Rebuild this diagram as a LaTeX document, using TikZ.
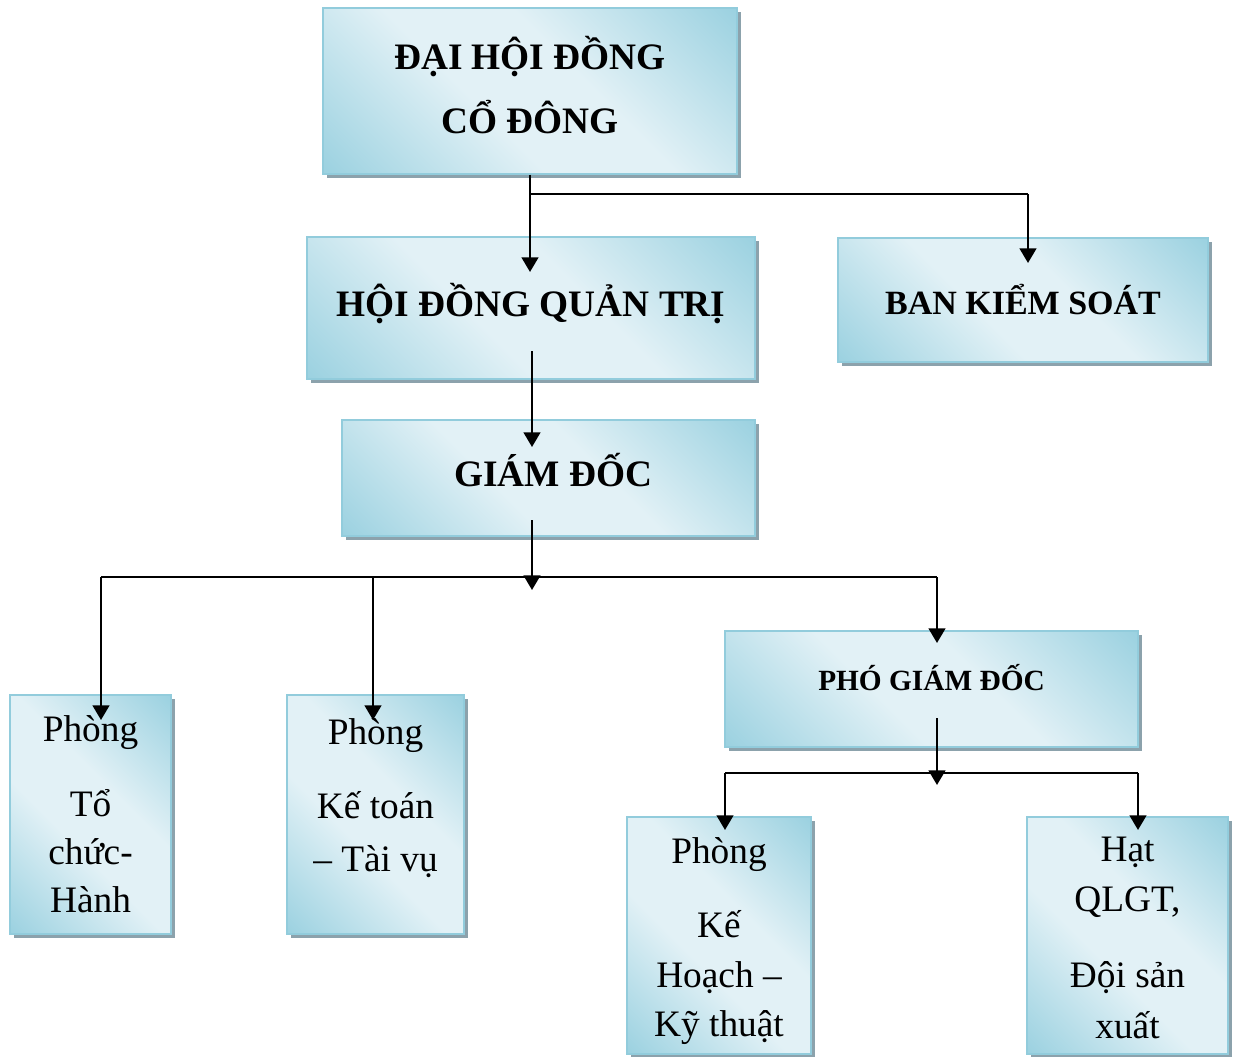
\documentclass[tikz,border=0pt]{standalone}
\usepackage{fontspec}
\setmainfont{Liberation Serif}
\usetikzlibrary{arrows.meta,shadows}
\definecolor{boxdark}{RGB}{148,206,222}
\definecolor{boxlight}{RGB}{226,241,246}
\definecolor{boxedge}{RGB}{146,204,220}
\definecolor{shd}{RGB}{140,162,172}
\pgfdeclareverticalshading{orgshade}{100bp}{color(0bp)=(boxdark); color(12bp)=(boxdark); color(42bp)=(boxlight); color(58bp)=(boxlight); color(88bp)=(boxdark); color(100bp)=(boxdark)}
\begin{document}
\begin{tikzpicture}[x=0.75pt,y=-0.75pt,
  orgbox/.style={rectangle, inner sep=0pt, draw=boxedge, line width=1pt,
    shading=orgshade, shading angle=-45,
    general shadow={fill=shd, shadow xshift=3pt, shadow yshift=-3pt}, align=center},
  bigbold/.style={font=\fontsize{28}{48}\selectfont\bfseries},
  plain/.style={font=\fontsize{28}{37}\selectfont},
  varr/.style={line width=1.8pt, -{Triangle[length=11pt,width=12.5pt]}},
  hline/.style={line width=1pt}]
\useasboundingbox (0,0) rectangle (1233,1057);

% boxes
\node[orgbox, bigbold, minimum width=310.5pt, minimum height=124.5pt] (dh) at (530,91)
  {ĐẠI HỘI ĐỒNG\\CỔ ĐÔNG\rule[-9pt]{0pt}{9pt}};
\node[orgbox, font=\fontsize{28}{34}\selectfont\bfseries, minimum width=336pt, minimum height=106.5pt,
  text height=24pt, text depth=11pt] (hd) at (531,308) {HỘI ĐỒNG QUẢN TRỊ};
\node[orgbox, font=\fontsize{25.5}{30}\selectfont\bfseries, minimum width=277.5pt, minimum height=93pt,
  text height=28pt, text depth=7pt] (bks) at (1023,300) {BAN KIỂM SOÁT};
\node[orgbox, font=\fontsize{28}{34}\selectfont\bfseries, minimum width=309.75pt, minimum height=87pt,
  text height=24pt, text depth=11pt] (gd) at (548.5,478) {\hspace*{7pt}GIÁM ĐỐC};
\node[orgbox, font=\fontsize{22}{26}\selectfont\bfseries, minimum width=309.75pt, minimum height=87pt,
  text height=15pt, text depth=13pt] (pgd) at (931.5,689) {PHÓ GIÁM ĐỐC};
\node[orgbox, font=\fontsize{28}{36}\selectfont, minimum width=120.75pt, minimum height=179.25pt]
  (p1) at (90.5,814.5) {Phòng\\[20pt]Tổ\\chức-\\Hành};
\node[orgbox, font=\fontsize{28}{40}\selectfont, minimum width=132.75pt, minimum height=179.25pt]
  (p2) at (375.5,814.5) {Phòng\\[15pt]Kế toán\\– Tài vụ\rule[-29pt]{0pt}{29pt}};
\node[orgbox, plain, minimum width=138pt, minimum height=177.75pt]
  (p3) at (719,935.5) {\rule{0pt}{27.5pt}Phòng\\[19pt]Kế\\Hoạch –\\Kỹ thuật};
\node[orgbox, font=\fontsize{28}{38}\selectfont, minimum width=150.75pt, minimum height=177.75pt]
  (p4) at (1127.5,935.5) {\rule{0pt}{22pt}Hạt\\QLGT,\\[19pt]Đội sản\\xuất};

% connector points
\coordinate (hdtip) at (530,272);
\coordinate (j1) at (530,194);
\coordinate (k1) at (1028,194);
\coordinate (bkstip) at (1028,263);
\coordinate (hdout) at (532,351);
\coordinate (gdtip) at (532,447);
\coordinate (gdout) at (532,520);
\coordinate (bustip) at (532,590);
\coordinate (busL) at (101,577);
\coordinate (busM) at (373,577);
\coordinate (busR) at (937,577);
\coordinate (p1tip) at (101,720);
\coordinate (p2tip) at (373,720);
\coordinate (pgdtip) at (937,643);
\coordinate (pgdout) at (937,718);
\coordinate (pgdbustip) at (937,785);
\coordinate (bustwoL) at (725,773);
\coordinate (bustwoR) at (1138,773);
\coordinate (p3tip) at (725,830);
\coordinate (p4tip) at (1138,830);

% connectors
\draw[varr] (dh.south) -- (hdtip);
\draw[hline] (j1) -- (k1);
\draw[varr] (k1) -- (bkstip);
\draw[varr] (hdout) -- (gdtip);
\draw[varr] (gdout) -- (bustip);
\draw[hline] (busL) -- (busR);
\draw[varr] (busL) -- (p1tip);
\draw[varr] (busM) -- (p2tip);
\draw[varr] (busR) -- (pgdtip);
\draw[varr] (pgdout) -- (pgdbustip);
\draw[hline] (bustwoL) -- (bustwoR);
\draw[varr] (bustwoL) -- (p3tip);
\draw[varr] (bustwoR) -- (p4tip);
\end{tikzpicture}
\end{document}
